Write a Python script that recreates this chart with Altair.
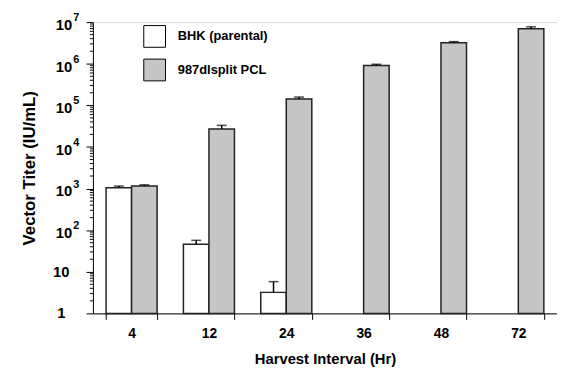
import altair as alt
import pandas as pd

categories = ["4", "12", "24", "36", "48", "72"]
series_names = ["BHK (parental)", "987dlsplit PCL"]
bhk_values = [1040, 46, 3.2, None, None, None]
bhk_err_top = [1150, 57, 5.8, None, None, None]
pcl_values = [1150, 27000, 142000, 910000, 3200000, 6900000]
pcl_err_top = [1230, 33000, 158000, 970000, 3400000, 7700000]

major_ticks = [1, 10, 100, 1000, 10000, 100000, 1000000, 10000000]
major_base = ["1", "10", "10", "10", "10", "10", "10", "10"]
major_exp = ["", "", "2", "3", "4", "5", "6", "7"]
minor_ticks = [m * 10 ** k for k in range(7) for m in range(2, 10)]

rows = []
for s, vals, errs in [(series_names[0], bhk_values, bhk_err_top),
                      (series_names[1], pcl_values, pcl_err_top)]:
    for c, v, e in zip(categories, vals, errs):
        if v is not None:
            rows.append({"cat": c, "series": s, "value": v, "err": e, "base": 1})
df = pd.DataFrame(rows)

lab = pd.DataFrame({"v": major_ticks, "base": major_base, "exp": major_exp})
minor_df = pd.DataFrame({"v": minor_ticks})

FONT = "Liberation Sans"
yscale = alt.Scale(type="log", domain=[1, 1e7], nice=False)
xscale = alt.Scale(paddingInner=0.34, paddingOuter=0.17)
xoff = alt.XOffset("series:N", sort=series_names,
                   scale=alt.Scale(domain=series_names, paddingInner=0, paddingOuter=0))

x_enc = alt.X("cat:N", sort=categories, scale=xscale,
              axis=alt.Axis(title="Harvest Interval (Hr)", labelAngle=0,
                            tickBand="extent", tickSize=6, labelPadding=7,
                            labelFont=FONT, labelFontSize=14, labelFontWeight="bold",
                            labelColor="black", titleFont=FONT, titleFontSize=15,
                            titleFontWeight="bold", titleColor="black", titlePadding=12,
                            domainColor="black", tickColor="black", grid=False))

y_enc = alt.Y("value:Q", scale=yscale,
              axis=alt.Axis(title="Vector Titer (IU/mL)", values=major_ticks, labels=False,
                            tickSize=7, tickColor="black", domainColor="black", grid=False,
                            titleFont=FONT, titleFontSize=17, titleFontWeight="bold",
                            titleColor="black", titleX=-64, titleY=147.5,
                            titleBaseline="middle", titleAlign="center"))

bars = alt.Chart(df).mark_bar(stroke="#222222", strokeWidth=1.5).encode(
    x=x_enc,
    xOffset=xoff,
    y=y_enc,
    y2="base:Q",
    fill=alt.Fill("series:N", sort=series_names,
                  scale=alt.Scale(domain=series_names, range=["white", "#c6c6c6"]),
                  legend=alt.Legend(title=None, orient="none", legendX=51, legendY=3,
                                    symbolType="square", symbolSize=484,
                                    symbolStrokeColor="black", symbolStrokeWidth=1,
                                    labelFont=FONT, labelFontSize=13, labelFontWeight="bold",
                                    labelColor="black", labelOffset=12, rowPadding=7,
                                    padding=0)),
)

err_rule = alt.Chart(df).mark_rule(color="black", strokeWidth=1.5).encode(
    x=alt.X("cat:N", sort=categories, scale=xscale),
    xOffset=xoff,
    y=alt.Y("value:Q", scale=yscale),
    y2="err:Q",
)
err_cap = alt.Chart(df).mark_tick(color="black", thickness=1.5, size=10).encode(
    x=alt.X("cat:N", sort=categories, scale=xscale),
    xOffset=xoff,
    y=alt.Y("err:Q", scale=yscale),
)

minor = alt.Chart(minor_df).mark_rule(color="black", strokeWidth=1).encode(
    y=alt.Y("v:Q", scale=yscale),
    x=alt.value(-3),
    x2=alt.value(0),
)

plain_labels = alt.Chart(lab).transform_filter("datum.exp == ''").mark_text(
    font=FONT, fontSize=15, fontWeight="bold", align="center", baseline="middle", color="black"
).encode(y=alt.Y("v:Q", scale=yscale), x=alt.value(-32), text="base:N")

exp_base = alt.Chart(lab).transform_filter("datum.exp != ''").mark_text(
    font=FONT, fontSize=15, fontWeight="bold", align="right", baseline="middle",
    color="black", dy=3
).encode(y=alt.Y("v:Q", scale=yscale), x=alt.value(-21), text="base:N")

exp_sup = alt.Chart(lab).transform_filter("datum.exp != ''").mark_text(
    font=FONT, fontSize=11, fontWeight="bold", align="left", baseline="middle",
    color="black", dy=-4
).encode(y=alt.Y("v:Q", scale=yscale), x=alt.value(-20), text="exp:N")

chart = alt.layer(bars, err_rule, err_cap, minor, plain_labels, exp_base, exp_sup).properties(
    width=470, height=295,
    autosize=alt.AutoSizeParams(type="none"),
    padding={"left": 86, "top": 12, "right": 0, "bottom": 52},
).configure_view(stroke=None).configure(background="white")

chart.save("out.html", embed_options={"renderer": "svg", "actions": False})
